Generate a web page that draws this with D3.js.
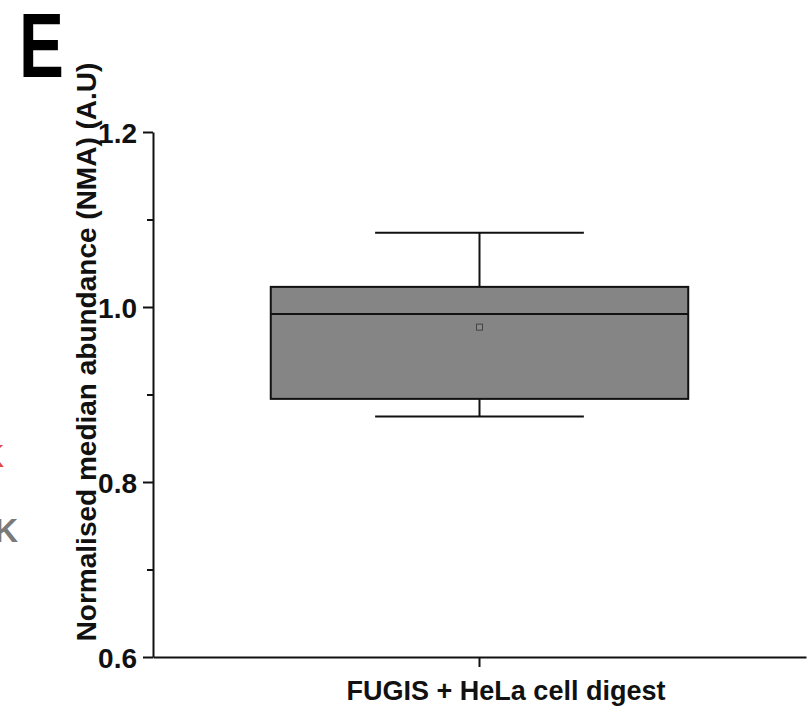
<!DOCTYPE html>
<html>
<head>
<meta charset="utf-8">
<script src="https://cdn.jsdelivr.net/npm/d3@7"></script>
<style>
  body { margin: 0; background: #fff; }
  svg text { font-family: "Liberation Sans", Arial, sans-serif; font-weight: bold; }
</style>
</head>
<body>
<div id="outer"></div>
<script>
////////// DATA //////////
const categories = ['FUGIS + HeLa cell digest'];
const whiskerLow = [0.875];
const quartile1 = [0.895];
const medians = [0.992];
const quartile3 = [1.023];
const whiskerHigh = [1.085];
const means = [0.977];
const yMajorTicks = [0.6, 0.8, 1.0, 1.2];
const yMinorTicks = [0.7, 0.9, 1.1];

////////// SIZING //////////
const width = 809, height = 715;
const margin = {top: 132, left: 153, right: 3, bottom: 58};
const plotW = width - margin.left - margin.right;
const plotH = height - margin.top - margin.bottom;

const svg = d3.select('#outer').append('svg')
	.attr('width', width)
	.attr('height', height);

const x = d3.scaleBand().domain(categories).range([0, plotW]).padding(0.22);
const y = d3.scaleLinear().domain([0.6, 1.2]).range([plotH, 0]);

const g = svg.append('g').attr('transform', `translate(${margin.left},${margin.top})`);

// PANEL LETTER + CROPPED NEIGHBOUR TEXT
svg.append('text').attr('transform', 'translate(19,77) scale(0.74,1)')
	.attr('font-size', 91).text('E');
svg.append('text').attr('x', 4).attr('y', 467).attr('text-anchor', 'end')
	.attr('font-size', 32).attr('fill', '#e0493c').text('K');
svg.append('text').attr('x', 18).attr('y', 542).attr('text-anchor', 'end')
	.attr('font-size', 33).attr('fill', '#7a7a7a').text('K');

// BOXES
const boxW = x.bandwidth();
const capW = boxW * 0.5;
categories.forEach((c, i) => {
	const cx = x(c) + boxW / 2;
	const box = g.append('g');
	box.append('line')
		.attr('x1', cx).attr('x2', cx)
		.attr('y1', y(whiskerHigh[i])).attr('y2', y(quartile3[i]))
		.attr('stroke', '#111').attr('stroke-width', 2);
	box.append('line')
		.attr('x1', cx).attr('x2', cx)
		.attr('y1', y(quartile1[i])).attr('y2', y(whiskerLow[i]))
		.attr('stroke', '#111').attr('stroke-width', 2);
	[whiskerHigh[i], whiskerLow[i]].forEach(v => {
		box.append('line')
			.attr('x1', cx - capW / 2).attr('x2', cx + capW / 2)
			.attr('y1', y(v)).attr('y2', y(v))
			.attr('stroke', '#111').attr('stroke-width', 2);
	});
	box.append('rect')
		.attr('x', x(c)).attr('width', boxW)
		.attr('y', y(quartile3[i])).attr('height', y(quartile1[i]) - y(quartile3[i]))
		.attr('fill', '#858585').attr('stroke', '#111').attr('stroke-width', 2);
	box.append('line')
		.attr('x1', x(c)).attr('x2', x(c) + boxW)
		.attr('y1', y(medians[i])).attr('y2', y(medians[i]))
		.attr('stroke', '#111').attr('stroke-width', 2);
	box.append('rect')
		.attr('x', cx - 3).attr('y', y(means[i]) - 3)
		.attr('width', 6).attr('height', 6)
		.attr('fill', '#8a8a8a').attr('stroke', '#444').attr('stroke-width', 1);
});

// Y AXIS
const yAxis = g.append('g')
	.call(d3.axisLeft(y).tickValues(yMajorTicks).tickFormat(d3.format('.1f')).tickSize(10).tickSizeOuter(0).tickPadding(6));
g.append('g')
	.call(d3.axisLeft(y).tickValues(yMinorTicks).tickFormat('').tickSize(6).tickSizeOuter(0))
	.select('.domain').remove();
g.selectAll('.tick line, .domain').attr('stroke', '#111').attr('stroke-width', 2);
yAxis.selectAll('text').attr('font-size', 28).attr('fill', '#111').attr('dy', '0.36em');

// X AXIS
const xAxis = g.append('g')
	.attr('transform', `translate(0,${plotH})`)
	.call(d3.axisBottom(x).tickSize(10).tickSizeOuter(0).tickFormat(''));
xAxis.selectAll('.tick line, .domain').attr('stroke', '#111').attr('stroke-width', 2);

// AXIS TITLES
svg.append('text')
	.attr('x', 506).attr('y', 700)
	.attr('text-anchor', 'middle').attr('font-size', 27).attr('fill', '#111')
	.text(categories[0]);
svg.append('text')
	.attr('transform', `translate(96,352) rotate(-90)`)
	.attr('text-anchor', 'middle').attr('font-size', 28).attr('fill', '#111')
	.text('Normalised median abundance (NMA) (A.U)');
</script>
</body>
</html>
